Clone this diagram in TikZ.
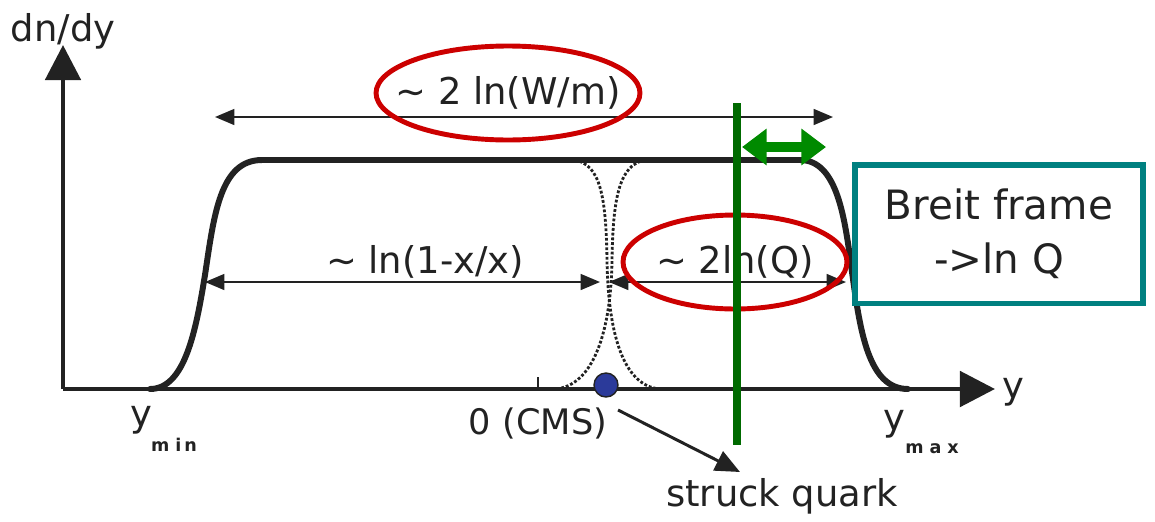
\documentclass[tikz,border=0pt]{standalone}
\usepackage{fontspec}
\setmainfont{DejaVu Sans}
\usetikzlibrary{arrows.meta}
\definecolor{ered}{HTML}{CC0000}
\definecolor{gline}{HTML}{006A00}
\definecolor{garrow}{HTML}{008A00}
\definecolor{tealbox}{HTML}{008080}
\definecolor{qblue}{HTML}{2B3A9A}
\definecolor{ink}{HTML}{222222}
\begin{document}
\begin{tikzpicture}[x=0.02cm,y=-0.02cm,
  lbl/.style={font=\fontsize{21}{25}\selectfont, text=ink, inner sep=0pt},
  sublbl/.style={font=\fontsize{10}{12}\selectfont\bfseries, text=ink, inner sep=0pt},
  axisline/.style={draw=ink, line width=2.8pt, -{Triangle[length=20pt,width=20pt]}},
  plateau/.style={draw=ink, line width=3.4pt, line cap=round},
  dotcurve/.style={draw=ink, line width=1.6pt, dash pattern=on 1.6pt off 1.1pt},
  thinarrow/.style={draw=ink, line width=1.1pt, {Triangle[length=11pt,width=9pt]}-{Triangle[length=11pt,width=9pt]}},
  redring/.style={draw=ered, line width=2.8pt},
  greenline/.style={draw=gline, line width=4.5pt},
  greenarrow/.style={draw=garrow, line width=5.7pt, {Triangle[length=14pt,width=20pt]}-{Triangle[length=14pt,width=20pt]}},
  breitbox/.style={draw=tealbox, line width=3.4pt, fill=white, minimum width=5.76cm, minimum height=2.78cm, align=center, font=\fontsize{23}{31}\selectfont, text=ink, inner sep=0pt},
  quarkarrow/.style={draw=ink, line width=1.7pt, -{Triangle[length=14pt,width=12pt]}}
]
\useasboundingbox (0,0) rectangle (1155,521);
\fill[white] (0,0) rectangle (1155,521);

% coordinates
\coordinate (O) at (63,389);
\coordinate (ytip) at (63,45);
\coordinate (xtip) at (995,389);
\coordinate (tickb) at (538,389);
\coordinate (tickt) at (538,377);
\coordinate (wl) at (215,117);
\coordinate (wr) at (833,117);
\coordinate (ll) at (205,282);
\coordinate (lr) at (600,282);
\coordinate (ql) at (609,282);
\coordinate (qr) at (846,282);
\coordinate (gtop) at (737,103);
\coordinate (gbot) at (737,445);
\coordinate (gal) at (742,147);
\coordinate (gar) at (826,147);
\coordinate (qs) at (618,410);
\coordinate (qe) at (740,472);

% plateau curve
\draw[plateau] (150,389) .. controls (185,389) and (196,330) .. (205,275)
  .. controls (214,215) and (220,160) .. (262,160) -- (800,160)
  .. controls (838,160) and (845,220) .. (852,272)
  .. controls (860,330) and (868,389) .. (908,389);

% dotted overlapping edges
\draw[dotcurve] (575,160) .. controls (600,165) and (606,195) .. (607,260)
  .. controls (608,330) and (622,386) .. (660,389);
\draw[dotcurve] (645,160) .. controls (620,165) and (613,195) .. (612,260)
  .. controls (611,330) and (594,386) .. (555,389);

% axes
\draw[axisline] (O) -- (ytip);
\draw[axisline] (O) -- (xtip);
\draw[draw=ink, line width=1.4pt] (tickb) -- (tickt);

% labels
\node[lbl] (dndy) at (63,31) {dn/dy};
\node[lbl] (ylab) at (1013,392) {y};
\node[lbl] (yminy) at (141,420) {y};
\node[sublbl] (yminsub) at (174,445) {m\,\,i\,n};
\node[lbl] (ymaxy) at (894,424) {y};
\node[sublbl] (ymaxsub) at (932,449) {m\,\,a\,\,x};
\node[lbl, font=\fontsize{20}{24}\selectfont] (cms) at (538,423) {0 (CMS)};
\node[lbl] (sq) at (782,496) {struck quark};

% arrows with lengths
\draw[thinarrow] (wl) -- (wr);
\draw[thinarrow] (ll) -- (lr);
\draw[thinarrow] (ql) -- (qr);
\node[lbl] (wlab) at (508,93) {\textasciitilde{} 2 ln(W/m)};
\node[lbl] (xlab) at (425,262) {\textasciitilde{} ln(1-x/x)};
\node[lbl] (qlab) at (735,262) {\textasciitilde{} 2ln(Q)};
\draw[redring] (wlab.center) ellipse [x radius=2.64cm, y radius=0.94cm];
\draw[redring] (qlab.center) ellipse [x radius=2.24cm, y radius=0.94cm];

% struck quark
\node[circle, fill=qblue, draw=ink, line width=0.8pt, minimum size=0.48cm, inner sep=0pt] (quark) at (606,385) {};
\draw[quarkarrow] (qs) -- (qe);

% Breit frame marker
\draw[greenline] (gtop) -- (gbot);
\draw[greenarrow] (gal) -- (gar);
\node[breitbox] (breit) at (999,234) {Breit frame\\->ln Q};
\end{tikzpicture}
\end{document}
